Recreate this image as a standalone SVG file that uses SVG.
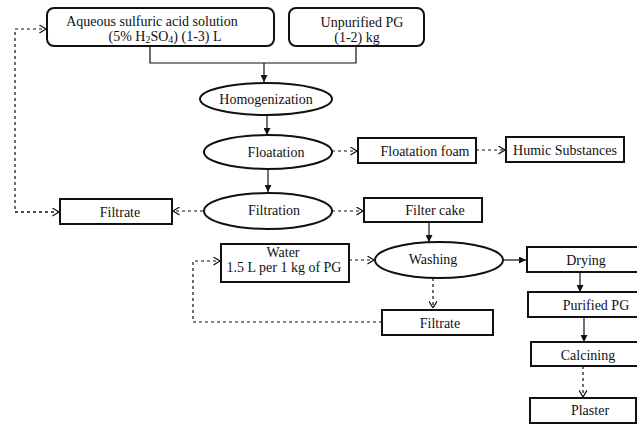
<svg xmlns="http://www.w3.org/2000/svg" width="637" height="424" viewBox="0 0 637 424">
<style>
text{font-family:"Liberation Serif","Times New Roman",serif;font-size:14px;fill:#111;text-anchor:middle}
.box{fill:#fff;stroke:#111;stroke-width:2}
.c{fill:none;stroke:#111;stroke-width:1.2}
.d{fill:none;stroke:#111;stroke-width:1.2;stroke-dasharray:3,3}
</style>
<defs>
<marker id="s" viewBox="0 0 8 8" refX="8" refY="4" markerWidth="7" markerHeight="7" orient="auto" markerUnits="userSpaceOnUse"><path d="M0,0 L8,4 L0,8 Z" fill="#111"/></marker>
<marker id="o" viewBox="0 0 8 10" refX="7.5" refY="5" markerWidth="7" markerHeight="9" orient="auto" markerUnits="userSpaceOnUse"><path d="M0,0.5 L7.5,5 L0,9.5" fill="none" stroke="#111" stroke-width="1.4"/></marker>
</defs>
<rect width="637" height="424" fill="#fff"/>
<g id="connectors">
<path class="c" d="M150,46 V63 H356 V46"/>
<path class="c" d="M264,63 V82" marker-end="url(#s)"/>
<path class="c" d="M267,116 V135" marker-end="url(#s)"/>
<path class="c" d="M268,169 V192" marker-end="url(#s)"/>
<path class="d" d="M332,151 H357" marker-end="url(#o)"/>
<path class="d" d="M476,150 H505" marker-end="url(#o)"/>
<path class="d" d="M203,211 H173" marker-end="url(#o)"/>
<path class="d" d="M60,212 H15 V29 H46" marker-end="url(#o)"/>
<path class="d" d="M15,212 H59" marker-end="url(#o)"/>
<path class="d" d="M332,211 H363" marker-end="url(#o)"/>
<path class="c" d="M429,222 V242" marker-end="url(#s)"/>
<path class="d" d="M349,260 H374" marker-end="url(#o)"/>
<path class="c" d="M503,260 H526" marker-end="url(#s)"/>
<path class="d" d="M433,278 V308" marker-end="url(#o)"/>
<path class="d" d="M382,322 H193 V261 H220" marker-end="url(#o)"/>
<path class="c" d="M580,272 V292" marker-end="url(#s)"/>
<path class="c" d="M584,317 V342" marker-end="url(#s)"/>
<path class="d" d="M583,366 V397" marker-end="url(#o)"/>
</g>
<g id="acid"><rect class="box" x="47" y="8" width="227" height="38" rx="7"/>
<text x="152" y="26">Aqueous sulfuric acid solution</text>
<text x="165" y="41">(5% H<tspan font-size="10" dy="2">2</tspan><tspan dy="-2">SO</tspan><tspan font-size="10" dy="2">4</tspan><tspan dy="-2">) (1-3) L</tspan></text></g>
<g id="pg"><rect class="box" x="289" y="8" width="135" height="38" rx="7"/>
<text x="362" y="27">Unpurified PG</text>
<text x="357" y="42">(1-2) kg</text></g>
<g id="homog"><ellipse class="box" cx="266" cy="99" rx="66" ry="16"/><text x="266" y="104">Homogenization</text></g>
<g id="float"><ellipse class="box" cx="268" cy="152" rx="64" ry="17"/><text x="276" y="157">Floatation</text></g>
<g id="filtration"><ellipse class="box" cx="268" cy="211" rx="64" ry="18"/><text x="274" y="215">Filtration</text></g>
<g id="foam"><rect class="box" x="358" y="138" width="118" height="25"/><text x="425" y="156">Floatation foam</text></g>
<g id="humic"><rect class="box" x="506" y="137" width="118" height="25"/><text x="565" y="155">Humic Substances</text></g>
<g id="filtrate1"><rect class="box" x="60" y="199" width="112" height="25"/><text x="120" y="217">Filtrate</text></g>
<g id="cake"><rect class="box" x="364" y="198" width="118" height="24"/><text x="435" y="215">Filter cake</text></g>
<g id="water"><rect class="box" x="221" y="244" width="128" height="38"/><text x="283" y="257">Water</text><text x="284" y="272">1.5 L per 1 kg of PG</text></g>
<g id="washing"><ellipse class="box" cx="439" cy="260" rx="64" ry="18"/><text x="433" y="264">Washing</text></g>
<g id="filtrate2"><rect class="box" x="382" y="310" width="111" height="25"/><text x="440" y="328">Filtrate</text></g>
<g id="drying"><rect class="box" x="527" y="247" width="115" height="25"/><text x="586" y="265">Drying</text></g>
<g id="purified"><rect class="box" x="528" y="292" width="115" height="25"/><text x="596" y="310">Purified PG</text></g>
<g id="calcining"><rect class="box" x="531" y="342" width="115" height="24"/><text x="588" y="360">Calcining</text></g>
<g id="plaster"><rect class="box" x="530" y="398" width="106" height="25"/><text x="590" y="415">Plaster</text></g>
</svg>
